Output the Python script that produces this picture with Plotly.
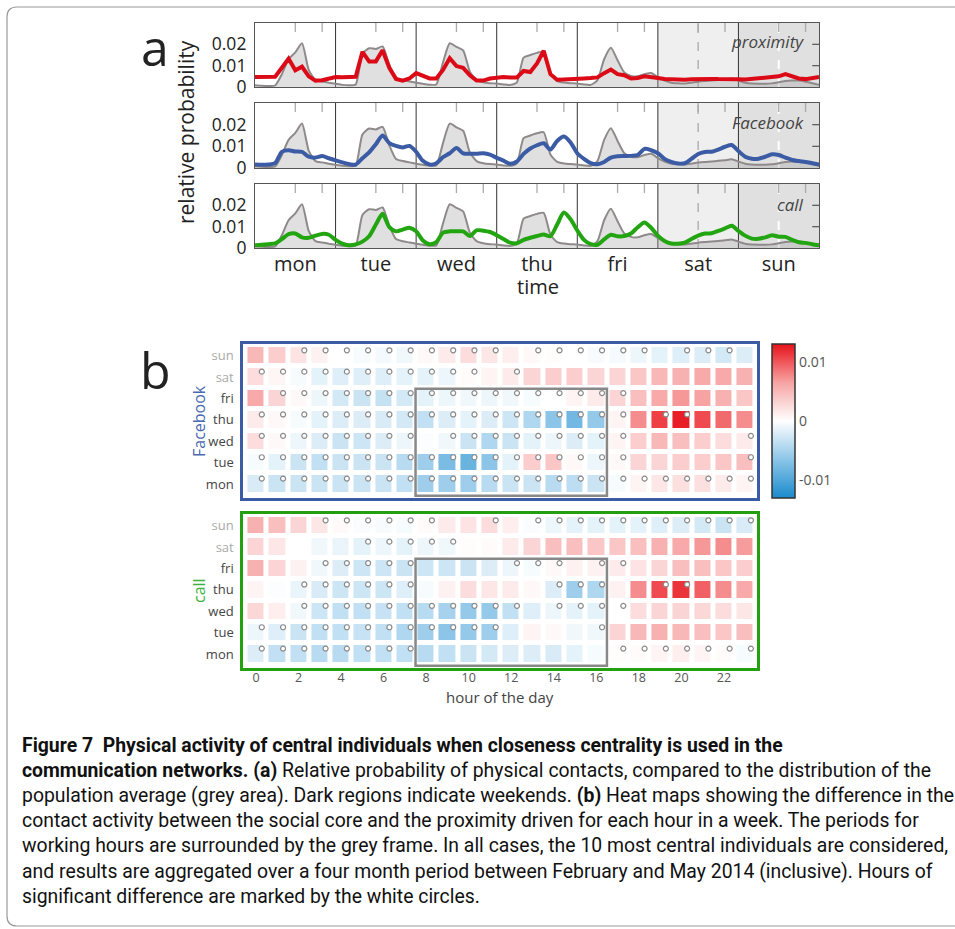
import plotly.graph_objects as go

W, H = 955, 929
def fx(x): return x / W
def fy(y): return 1 - y / H

# ---------------- data: panel a (hour of week, step 2h) ----------------
hours = list(range(0, 169, 2))
day_labels = ["mon", "tue", "wed", "thu", "fri", "sat", "sun"]
day_ticks = [12, 36, 60, 84, 108, 132, 156]

population = [0.0008,0.0006,0.0005,0.0007,0.006,0.013,0.0162,0.0205,0.008,0.0032,0.0026,0.002,
              0.0015,0.001,0.0008,0.0012,0.0155,0.0182,0.0178,0.019,0.0105,0.0042,0.0032,0.0026,
              0.002,0.0015,0.0011,0.0012,0.0115,0.0205,0.0188,0.0172,0.0072,0.0032,0.0022,0.0018,
              0.0016,0.0012,0.001,0.0022,0.0138,0.015,0.016,0.0165,0.0062,0.0028,0.0021,0.0018,
              0.0016,0.0012,0.001,0.0032,0.013,0.0184,0.0125,0.0068,0.0052,0.005,0.006,0.0066,
              0.0046,0.003,0.002,0.0017,0.0016,0.002,0.0025,0.0028,0.003,0.0033,0.0036,0.004,
              0.003,0.002,0.0016,0.0015,0.0015,0.0017,0.0022,0.0028,0.003,0.003,0.0025,0.0018,0.001]

proximity = [0.0047,0.0047,0.0046,0.0048,0.009,0.0133,0.0078,0.0095,0.005,0.003,0.0032,0.004,
             0.0047,0.0046,0.0047,0.0048,0.0165,0.012,0.012,0.0172,0.009,0.0038,0.003,0.004,
             0.0065,0.005,0.004,0.004,0.008,0.0135,0.0098,0.009,0.0055,0.003,0.003,0.004,
             0.0045,0.0047,0.0045,0.0045,0.0075,0.007,0.011,0.017,0.006,0.0034,0.0035,0.0038,
             0.004,0.004,0.0042,0.0045,0.0065,0.0082,0.006,0.0055,0.004,0.0042,0.005,0.0048,
             0.0042,0.0038,0.0036,0.0035,0.0034,0.0036,0.0038,0.004,0.0038,0.0037,0.0038,0.0036,
             0.0036,0.0035,0.0038,0.0042,0.0046,0.0045,0.005,0.006,0.0048,0.004,0.0037,0.0043,0.0047]

facebook = [0.0016,0.0015,0.0016,0.0022,0.0075,0.0082,0.0076,0.0074,0.0052,0.0048,0.0055,0.0045,
            0.0035,0.0026,0.0018,0.0016,0.0045,0.0072,0.011,0.015,0.0115,0.0102,0.0095,0.0102,
            0.0075,0.0033,0.0016,0.0022,0.005,0.0068,0.0092,0.0068,0.0066,0.0066,0.0068,0.0062,
            0.0047,0.0034,0.002,0.003,0.0065,0.009,0.0105,0.0114,0.0085,0.0125,0.0145,0.0118,
            0.0068,0.0042,0.0022,0.0017,0.0028,0.0048,0.0054,0.0055,0.0056,0.006,0.0088,0.0082,
            0.0068,0.0042,0.0028,0.0021,0.0022,0.0042,0.0065,0.0074,0.0075,0.0085,0.0098,0.0106,
            0.0078,0.0052,0.0043,0.0043,0.0052,0.0063,0.006,0.0048,0.0037,0.0032,0.0028,0.0022,0.0016]

call = [0.0013,0.0015,0.0018,0.0022,0.0042,0.0065,0.0068,0.005,0.0048,0.0058,0.0066,0.0062,
        0.0038,0.002,0.0013,0.0017,0.003,0.0055,0.011,0.016,0.0098,0.0078,0.0086,0.0095,
        0.0078,0.0035,0.0018,0.0028,0.0072,0.0078,0.0078,0.0078,0.0056,0.0083,0.0081,0.0075,
        0.006,0.0042,0.0025,0.0022,0.0038,0.0048,0.0056,0.0063,0.0055,0.011,0.0166,0.0135,
        0.0082,0.0038,0.0018,0.0015,0.004,0.0062,0.0055,0.0056,0.0068,0.0097,0.012,0.0095,
        0.0058,0.0033,0.0021,0.002,0.0025,0.0042,0.0058,0.0068,0.0069,0.008,0.0092,0.0104,
        0.008,0.0058,0.0044,0.0043,0.005,0.006,0.0053,0.0052,0.0038,0.0027,0.0024,0.0018,0.0013]

# ---------------- data: panel b (difference per hour of day) ----------------
hour_of_day = list(range(24))
hour_ticks = list(range(0, 24, 2))

fb_mon = [-0.0022,-0.003,-0.003,-0.003,-0.003,-0.003,-0.003,-0.0035,-0.0055,-0.0055,-0.0055,-0.004,-0.003,-0.003,-0.004,-0.0038,-0.003,-0.0005,0.0008,0.0018,0.0022,0.0022,0.0015,0.0008]
fb_tue = [-0.0005,-0.0015,-0.003,-0.0035,-0.003,-0.003,-0.003,-0.004,-0.0055,-0.0075,-0.0085,-0.0065,-0.0015,0.0035,0.004,0.0005,-0.001,0.0005,0.003,0.003,0.0035,0.0035,0.004,0.0045]
fb_wed = [0.0025,0.0005,-0.001,-0.002,-0.003,-0.0028,-0.002,-0.001,-0.0002,-0.0008,-0.003,-0.0045,-0.003,-0.0015,-0.001,-0.002,-0.0015,0.0008,0.0035,0.005,0.0045,0.0035,0.0025,0.0015]
fb_thu = [0.0015,0.0005,-0.0005,-0.0015,-0.002,-0.002,-0.0022,-0.0025,-0.0035,-0.002,-0.0015,-0.002,-0.0028,-0.0045,-0.0065,-0.008,-0.006,0.0008,0.0075,0.011,0.0125,0.0105,0.009,0.0075]
fb_fri = [0.006,0.003,0.0005,-0.001,-0.0025,-0.003,-0.0033,-0.0025,-0.0015,-0.001,-0.0008,-0.001,-0.0008,-0.0005,0.0,0.0008,0.0015,0.003,0.0045,0.006,0.007,0.0065,0.0055,0.004]
fb_sat = [0.0025,0.0007,-0.0005,-0.0015,-0.0018,-0.0018,-0.0018,-0.0015,-0.0015,-0.001,0.0003,0.0008,0.0015,0.003,0.0035,0.0035,0.003,0.003,0.004,0.005,0.0055,0.006,0.006,0.0055]
fb_sun = [0.005,0.0035,0.002,0.001,0.0,-0.0005,-0.0007,-0.0008,0.0005,0.0015,0.0025,0.0018,0.0012,0.0005,0.0002,0.0,-0.0004,-0.0006,-0.001,-0.0015,-0.0018,-0.002,-0.0025,-0.002]

call_mon = [-0.002,-0.0035,-0.0035,-0.004,-0.004,-0.0035,-0.0035,-0.0035,-0.004,-0.0035,-0.003,-0.0025,-0.002,-0.002,-0.0022,-0.0015,-0.0005,0.0002,0.0003,0.0008,0.0012,0.0008,0.0003,-0.0005]
call_tue = [-0.001,-0.0018,-0.003,-0.0035,-0.0035,-0.0032,-0.0035,-0.0045,-0.0055,-0.0065,-0.006,-0.0055,-0.0018,0.0008,0.0005,-0.0008,-0.0008,0.003,0.005,0.0055,0.005,0.0045,0.004,0.0045]
call_wed = [0.0028,0.0012,-0.0008,-0.0028,-0.0035,-0.0035,-0.0032,-0.0035,-0.004,-0.005,-0.006,-0.006,-0.0035,-0.0018,-0.001,-0.0015,-0.0015,0.0,0.0025,0.003,0.003,0.0028,0.0025,0.0018]
call_thu = [0.0008,-0.0002,-0.0012,-0.0022,-0.0028,-0.0028,-0.0028,-0.0018,-0.0005,0.001,0.0025,0.0018,0.0015,0.0005,-0.002,-0.0055,-0.0045,0.001,0.0075,0.0105,0.0115,0.0095,0.0075,0.006]
call_fri = [0.0055,0.003,0.001,-0.0008,-0.002,-0.0028,-0.0028,-0.003,-0.0028,-0.0028,-0.003,-0.002,-0.001,-0.0005,0.0005,0.001,0.001,0.0015,0.002,0.003,0.0045,0.0045,0.004,0.0035]
call_sat = [0.003,0.0018,0.0,-0.0008,-0.0012,-0.0015,-0.001,-0.0015,-0.001,-0.0008,0.0002,0.0003,0.0015,0.003,0.0045,0.0045,0.004,0.004,0.0045,0.0055,0.006,0.007,0.0075,0.0068]
call_sun = [0.0055,0.0045,0.003,0.0018,0.0004,-0.0003,-0.0004,-0.0005,0.0003,0.0015,0.002,0.0025,0.0012,-0.0003,-0.001,-0.0015,-0.0015,-0.0015,-0.0015,-0.0018,-0.002,-0.0025,-0.003,-0.0022]

# significance (1 = marked by a circle), rows mon..sun
fb_sig = ["111111111111111111111111",
          "111111111111111111000001",
          "111111110111111111000001",
          "111111111111111111011000",
          "011111111111111111000000",
          "111111111110100000000000",
          "001111111111011111101110"]
call_sig = ["111111110000000001111111",
            "111111111111000010000000",
            "001111111111101111000000",
            "001111110000001110011000",
            "000111110000111011000000",
            "000001111100000000000000",
            "000111111001011111111111"]

fb_rows = [fb_mon, fb_tue, fb_wed, fb_thu, fb_fri, fb_sat, fb_sun]
call_rows = [call_mon, call_tue, call_wed, call_thu, call_fri, call_sat, call_sun]

# ---------------- figure ----------------
fig = go.Figure()
FONT = "Open Sans, sans-serif"

pop_fill = "rgba(165,160,160,0.33)"
panels = [("proximity", proximity, "#dc0a16", "x", "y", "linear", 41),
          ("Facebook", facebook, "#3b5ba5", "x2", "y2", "spline", 122),
          ("call", call, "#22a511", "x3", "y3", "spline", 204)]

for name, vals, col, xa, ya, shp, ylab in panels:
    fig.add_trace(go.Scatter(x=hours, y=population, mode="lines",
                             line=dict(color="#8e8a8a", width=2, shape="spline", smoothing=0.6),
                             fill="tozeroy", fillcolor=pop_fill, xaxis=xa, yaxis=ya,
                             hoverinfo="skip", showlegend=False))
    fig.add_trace(go.Scatter(x=hours, y=vals, mode="lines",
                             line=dict(color=col, width=4, shape=shp, smoothing=0.7),
                             xaxis=xa, yaxis=ya, showlegend=False, name=name))
    yd = ya + " domain"
    fig.add_shape(type="rect", xref=xa, yref=yd, x0=120, x1=144, y0=0, y1=1,
                  fillcolor="#efefef", line_width=0, layer="below")
    fig.add_shape(type="rect", xref=xa, yref=yd, x0=144, x1=168, y0=0, y1=1,
                  fillcolor="#e0e0e0", line_width=0, layer="below")
    fig.add_shape(type="line", xref=xa, yref=yd, x0=132, x1=132, y0=0, y1=1,
                  line=dict(color="#aaaaaa", width=1.3, dash="dash"), layer="below")
    fig.add_shape(type="line", xref=xa, yref=yd, x0=156, x1=156, y0=0, y1=1,
                  line=dict(color="#ffffff", width=2, dash="dash"), layer="below")
    for d in range(1, 7):
        fig.add_shape(type="line", xref=xa, yref=yd, x0=24 * d, x1=24 * d, y0=0, y1=1,
                      line=dict(color="#333", width=1), layer="below")
    for d in range(7):
        for hh in (12, 20):
            fig.add_shape(type="line", xref=xa, yref=yd, x0=24 * d + hh, x1=24 * d + hh,
                          y0=0.86, y1=1, line=dict(color="#aaaaaa", width=1.3))
    for v in (0.01, 0.02):
        fig.add_shape(type="line", xref=xa + " domain", yref=ya, x0=0.988, x1=1, y0=v, y1=v,
                      line=dict(color="#555", width=1.2))
    fig.add_annotation(text="<i>%s</i>" % name, x=fx(806), y=fy(ylab), xref="paper", yref="paper",
                       xanchor="right", yanchor="middle", showarrow=False,
                       font=dict(family=FONT, size=17, color="#444"))

# heatmaps
def sig_points(sig):
    xs, ys = [], []
    for r, s in enumerate(sig):
        for hh, c in enumerate(s):
            if c == "1":
                xs.append(hh + 0.27)
                ys.append(r + 0.25)
    return xs, ys

for rows, sig, xa, ya in [(fb_rows, fb_sig, "x4", "y4"), (call_rows, call_sig, "x5", "y5")]:
    fig.add_trace(go.Heatmap(z=rows, x=hour_of_day, y=list(range(7)), coloraxis="coloraxis",
                             xgap=5, ygap=5, xaxis=xa, yaxis=ya, hoverinfo="skip"))
    sx, sy = sig_points(sig)
    fig.add_trace(go.Scatter(x=sx, y=sy, mode="markers", xaxis=xa, yaxis=ya, showlegend=False,
                             marker=dict(symbol="circle", size=5, color="white",
                                         line=dict(color="#8a8a8a", width=1.2)),
                             hoverinfo="skip"))
    fig.add_shape(type="rect", xref=xa, yref=ya, x0=7.5, x1=16.5, y0=-0.55, y1=4.45,
                  line=dict(color="#888", width=2.5))

xdom_a = [fx(255), fx(819)]
common_x = dict(domain=xdom_a, range=[0, 168], showgrid=False, zeroline=False,
                showline=True, mirror=True, linecolor="#555", linewidth=1.2,
                automargin=False, fixedrange=True)
common_y = dict(range=[0, 0.03], showgrid=False, zeroline=False, showline=True, mirror=True,
                linecolor="#555", linewidth=1.2, automargin=False,
                tickvals=[0, 0.01, 0.02], ticktext=["0", "0.01", "0.02"],
                ticks="", ticklabelstandoff=4,
                tickfont=dict(family=FONT, size=17.5, color="#222"))

ytick_text = ["mon", "tue", "wed", "thu", "fri",
              '<span style="color:#aaaaaa">sat</span>', '<span style="color:#aaaaaa">sun</span>']

fig.update_layout(
    width=W, height=H, margin=dict(l=0, r=0, t=0, b=0, pad=0),
    paper_bgcolor="white", plot_bgcolor="white", showlegend=False,
    font=dict(family=FONT, color="#222"),
    xaxis=dict(common_x, anchor="y", showticklabels=False, ticks=""),
    xaxis2=dict(common_x, anchor="y2", showticklabels=False, ticks=""),
    xaxis3=dict(common_x, anchor="y3", tickvals=day_ticks, ticktext=day_labels,
                ticks="", ticklabelstandoff=-2,
                tickfont=dict(family=FONT, size=20, color="#222")),
    yaxis=dict(common_y, anchor="x", domain=[fy(87), fy(23)]),
    yaxis2=dict(common_y, anchor="x2", domain=[fy(168), fy(103)]),
    yaxis3=dict(common_y, anchor="x3", domain=[fy(248), fy(184)]),
    xaxis4=dict(domain=[fx(243.3), fx(757.3)], range=[-0.6, 23.57], anchor="y4",
                showgrid=False, zeroline=False, showline=True, mirror=True,
                linecolor="#3b5ba5", linewidth=3, showticklabels=False, ticks="",
                automargin=False),
    yaxis4=dict(domain=[fy(498.3), fy(344.3)], range=[-0.67, 6.53], anchor="x4",
                showgrid=False, zeroline=False, showline=True, mirror=True,
                linecolor="#3b5ba5", linewidth=3, tickvals=list(range(7)), ticktext=ytick_text,
                ticks="", ticklabelstandoff=4,
                tickfont=dict(size=13, color="#444"), automargin=False),
    xaxis5=dict(domain=[fx(243.3), fx(757.3)], range=[-0.6, 23.57], anchor="y5",
                showgrid=False, zeroline=False, showline=True, mirror=True,
                linecolor="#22a00f", linewidth=3, tickvals=hour_ticks,
                ticktext=[str(t) for t in hour_ticks], ticks="", ticklabelstandoff=-4,
                tickfont=dict(size=12.5, color="#555"),
                automargin=False),
    yaxis5=dict(domain=[fy(668.3), fy(514.3)], range=[-0.67, 6.53], anchor="x5",
                showgrid=False, zeroline=False, showline=True, mirror=True,
                linecolor="#22a00f", linewidth=3, tickvals=list(range(7)), ticktext=ytick_text,
                ticks="", ticklabelstandoff=4,
                tickfont=dict(size=13, color="#444"), automargin=False),
    coloraxis=dict(cmin=-0.013, cmax=0.013,
                   colorscale=[[0, "#1a8bcc"], [0.25, "#8cc5e8"], [0.5, "#ffffff"],
                               [0.75, "#f7a3a3"], [1, "#e8121a"]],
                   colorbar=dict(x=fx(772), xanchor="left", y=fy(421), yanchor="middle",
                                 lenmode="pixels", len=154, thicknessmode="pixels", thickness=23,
                                 outlinewidth=1.5, outlinecolor="#333", xpad=0, ypad=0,
                                 tickvals=[-0.01, 0, 0.01], ticktext=["-0.01", "0", "0.01"],
                                 ticks="", tickfont=dict(size=14, color="#555"))),
)

# text annotations
def ann(text, x, y, size, color="#222", angle=0, anchor="center", family=FONT):
    fig.add_annotation(text=text, x=fx(x), y=fy(y), xref="paper", yref="paper", showarrow=False,
                       xanchor=anchor, yanchor="middle", textangle=angle,
                       font=dict(size=size, color=color, family=family))

ann("a", 155, 47, 50)
ann("b", 155, 370, 50)
ann("relative probability", 186, 132, 21, angle=-90)
ann("time", 538, 287, 20)
ann("Facebook", 199, 421, 16, color="#4a6ab0", angle=-90)
ann("call", 199, 591, 16, color="#3db33d", angle=-90)
ann("hour of the day", 500, 697, 15, color="#444")

caption = [
    "<b>Figure 7  Physical activity of central individuals when closeness centrality is used in the</b>",
    "<b>communication networks. (a)</b> Relative probability of physical contacts, compared to the distribution of the",
    "population average (grey area). Dark regions indicate weekends. <b>(b)</b> Heat maps showing the difference in the",
    "contact activity between the social core and the proximity driven for each hour in a week. The periods for",
    "working hours are surrounded by the grey frame. In all cases, the 10 most central individuals are considered,",
    "and results are aggregated over a four month period between February and May 2014 (inclusive). Hours of",
    "significant difference are marked by the white circles.",
]
cap_y = [745, 770, 795, 820, 845, 871, 896]
for t, yy in zip(caption, cap_y):
    ann(t, 20, yy, 19.4, color="#111", anchor="left", family="Roboto, sans-serif")

# outer rounded frame
r = 10
path = "M %f,%f L %f,%f Q %f,%f %f,%f L %f,%f Q %f,%f %f,%f L %f,%f" % (
    fx(955), fy(7), fx(7 + r), fy(7), fx(7), fy(7), fx(7), fy(7 + r),
    fx(7), fy(926 - r), fx(7), fy(926), fx(7 + r), fy(926), fx(955), fy(926))
fig.add_shape(type="path", path=path, xref="paper", yref="paper",
              line=dict(color="#999", width=1.2))

fig.write_html("out.html", config={"displayModeBar": False},
               post_script="document.body.style.margin='0';document.body.style.overflow='hidden';")
